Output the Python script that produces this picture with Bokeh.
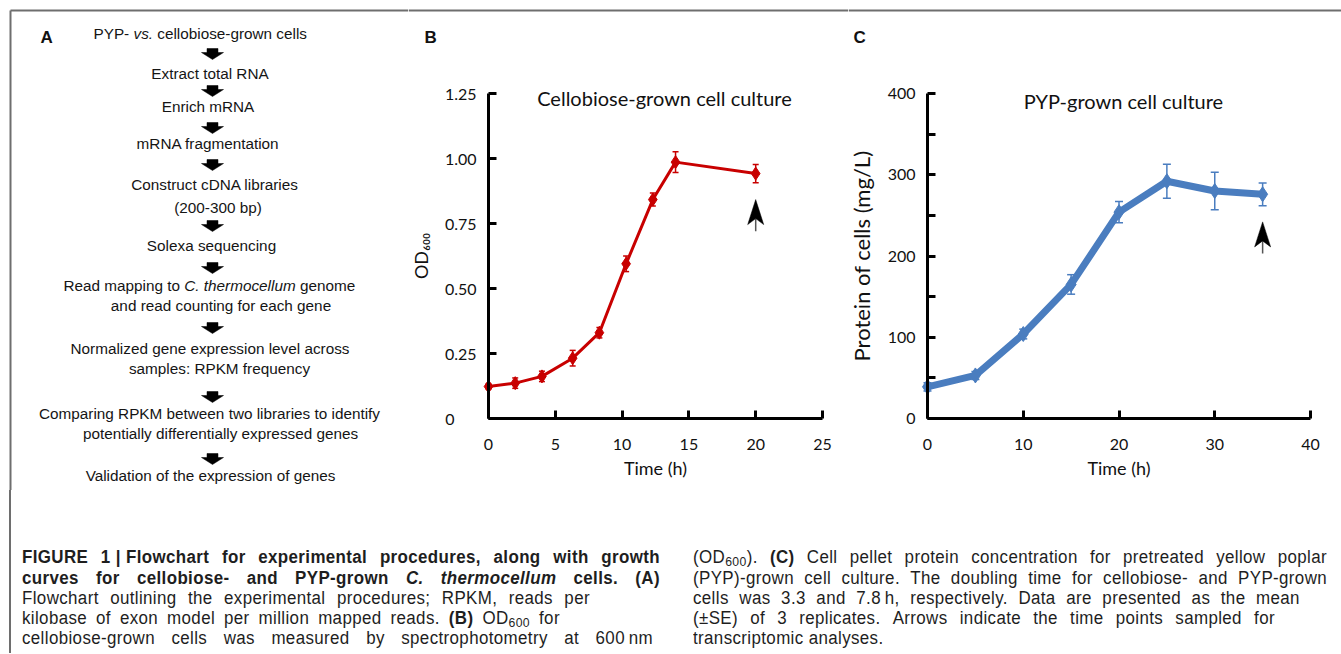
from bokeh.plotting import figure
from bokeh.models import (Range1d, LinearAxis, FixedTicker, CustomJSTickFormatter,
                          ColumnDataSource, Whisker, TeeHead, Label, Div)
from bokeh.layouts import row, column
from bokeh.embed import file_html
from bokeh.resources import INLINE
from bokeh.core.properties import value

# ---------------- data ----------------
# Panel B: cellobiose-grown culture, OD600
b_time = [0, 2, 4, 6.3, 8.3, 10.3, 12.3, 14, 20]
b_od = [0.123, 0.136, 0.162, 0.232, 0.330, 0.595, 0.842, 0.986, 0.942]
b_se = [0.010, 0.020, 0.020, 0.030, 0.020, 0.030, 0.025, 0.040, 0.035]
b_xticks = [0, 5, 10, 15, 20, 25]
b_yticks = [0, 0.25, 0.5, 0.75, 1.0, 1.25]
b_sample_time = 20
b_arrow_from, b_arrow_to = 0.72, 0.842

# Panel C: PYP-grown culture, protein of cells (mg/L)
c_time = [0, 5, 10, 15, 20, 25, 30, 35]
c_protein = [39, 53, 104, 165, 254, 292, 280, 276]
c_se = [5, 5, 6, 12, 13, 21, 23, 14]
c_xticks = [0, 10, 20, 30, 40]
c_yticks = [0, 100, 200, 300, 400]
c_yminor = [50, 150, 250, 350]
c_sample_time = 35
c_arrow_from, c_arrow_to = 203, 242

# Panel A: flowchart steps
flow_text = ["Extract total RNA", "Enrich mRNA", "mRNA fragmentation",
             "Construct cDNA libraries", "(200-300 bp)", "Solexa sequencing",
             "and read counting for each gene",
             "Normalized gene expression level across", "samples: RPKM frequency",
             "Comparing RPKM between two libraries to identify",
             "potentially differentially expressed genes",
             "Validation of the expression of genes"]
flow_cx = [209.5, 207.5, 207.5, 214.5, 217.5, 211, 220.5, 209.5, 219, 209, 220, 210]
flow_cy = [73, 106, 143, 184, 207, 245, 305, 348, 368, 413, 433, 475]
flow_seg_text = ["PYP-", "vs.", "cellobiose-grown cells", "Read mapping to", "C. thermocellum", "genome"]
flow_seg_x = [93, 133, 156.8, 63, 183.8, 299.4]
flow_seg_y = [33, 33, 33, 285, 285, 285]
flow_seg_style = ["normal", "italic", "normal", "normal", "italic", "normal"]
arrow_tops = [48, 85, 122, 159, 220, 262, 322, 391, 453]

FRAME = "#6e6e6e"
RED = "#c80000"
BLUE = "#4a7dbf"
TICKFONT = "Lato"
FLOWFONT = "Liberation Sans"

def base_fig(W, H, xr, yr):
    p = figure(width=W, height=H, x_range=Range1d(*xr), y_range=Range1d(*yr),
               x_axis_type=None, y_axis_type=None, toolbar_location=None,
               output_backend="svg", min_border=0, min_border_left=0, min_border_right=0,
               min_border_top=0, min_border_bottom=0)
    p.outline_line_color = None
    p.background_fill_color = "white"
    p.border_fill_color = "white"
    return p

def style_axis(ax, label, fsize="18px"):
    ax.axis_line_width = 3
    ax.axis_line_color = "black"
    ax.major_tick_in = 8
    ax.major_tick_out = 0
    ax.major_tick_line_width = 3
    ax.minor_tick_in = 0
    ax.minor_tick_out = 0
    ax.major_label_text_font = TICKFONT
    ax.major_label_text_font_size = "16px"
    ax.major_label_text_color = "#111"
    ax.axis_label = label
    ax.axis_label_text_font = TICKFONT
    ax.axis_label_text_font_size = fsize
    ax.axis_label_text_font_style = "normal"
    ax.axis_label_text_color = "#111"

def mapping(L, T, W, H, ox, oy, kx, ky):
    X = lambda rx: (rx - ox) / kx
    Y = lambda ry: (oy - ry) / ky
    return X, Y, (X(L), X(L + W)), (Y(T + H), Y(T))

def sample_arrow(p, xs, y_from, y_to, kx, ky):
    # filled notched head (tip at y_to) plus thin grey shaft
    hl, hw, notch = 25, 8, 19
    p.segment(x0=[xs], y0=[y_from], x1=[xs], y1=[y_to - notch / ky], line_color="#555", line_width=1.5)
    p.patch(x=[xs, xs + hw / kx, xs, xs - hw / kx],
            y=[y_to, y_to - hl / ky, y_to - notch / ky, y_to - hl / ky],
            fill_color="black", line_color="black", line_width=0.5)

TOP_H = 490

# ---------------- panel A ----------------
pa = base_fig(408, TOP_H, (0, 408), (TOP_H, 0))
pa.segment(x0=[10, 10], y0=[10, 10], x1=[408, 10], y1=[10, TOP_H], line_color=FRAME, line_width=2)
pa.text(x=[40], y=[37], text=["A"], text_font=value(FLOWFONT), text_font_style="bold",
        text_font_size=value("17px"), text_baseline="middle", text_align="left", text_color="#111")
pa.text(x=flow_cx, y=flow_cy, text=flow_text, text_font=value(FLOWFONT),
        text_font_size=value("15.3px"), text_align="center", text_baseline="middle", text_color="#151515")
segsrc = ColumnDataSource(dict(x=flow_seg_x, y=flow_seg_y, t=flow_seg_text, s=flow_seg_style))
pa.text(x="x", y="y", text="t", text_font_style="s", source=segsrc, text_font=value(FLOWFONT),
        text_font_size=value("15.3px"), text_align="left", text_baseline="middle", text_color="#151515")
axs, ays = [], []
cx = 212
for t in arrow_tops:
    axs.append([cx - 5.5, cx + 5.5, cx + 5.5, cx + 11, cx, cx - 11, cx - 5.5])
    ays.append([t, t, t + 4, t + 4, t + 11, t + 4, t + 4])
pa.patches(xs=axs, ys=ays, fill_color="black", line_color="black", line_width=0.5)

# ---------------- panel B ----------------
bkx, bky = (822 - 488) / 25, (418 - 93) / 1.25
BX, BY, bxr, byr = mapping(408, 0, 440, TOP_H, 488, 418, bkx, bky)
pb = base_fig(440, TOP_H, bxr, byr)
pb.segment(x0=[BX(408)], y0=[BY(10)], x1=[BX(848)], y1=[BY(10)], line_color=FRAME, line_width=2)

bx = LinearAxis(fixed_location=0, bounds=(0, 25), ticker=FixedTicker(ticks=b_xticks))
style_axis(bx, "Time (h)")
bx.major_label_standoff = 20
bx.axis_label_standoff = 4
pb.add_layout(bx, "below")
by = LinearAxis(fixed_location=0, bounds=(0, 1.25), ticker=FixedTicker(ticks=b_yticks),
                formatter=CustomJSTickFormatter(code="return tick == 0 ? '0\u2008\u2007\u2007' : tick.toFixed(2);"))
style_axis(by, "OD\u2086\u2080\u2080")
by.major_label_standoff = 12
by.axis_label_standoff = 10
pb.add_layout(by, "left")

bsrc = ColumnDataSource(dict(t=b_time, v=b_od,
                             up=[v + e for v, e in zip(b_od, b_se)],
                             lo=[v - e for v, e in zip(b_od, b_se)]))
pb.line("t", "v", source=bsrc, line_color=RED, line_width=3)
pb.add_layout(Whisker(source=bsrc, base="t", upper="up", lower="lo", dimension="height",
                      line_color=RED, line_width=1.5,
                      upper_head=TeeHead(size=6, line_color=RED, line_width=1.5),
                      lower_head=TeeHead(size=6, line_color=RED, line_width=1.5)))
pb.scatter("t", "v", source=bsrc, marker="diamond", size=13, fill_color=RED, line_color=RED)
sample_arrow(pb, b_sample_time, b_arrow_from, b_arrow_to, bkx, bky)
pb.add_layout(Label(x=BX(664), y=BY(97), text="Cellobiose-grown cell culture", text_align="center",
                    text_baseline="middle", text_font=TICKFONT, text_font_size="20px", text_color="#111"))
pb.add_layout(Label(x=BX(424), y=BY(37), text="B", text_align="left", text_baseline="middle",
                    text_font=FLOWFONT, text_font_style="bold", text_font_size="17px",
                    text_color="#111"))

# ---------------- panel C ----------------
ckx, cky = (1310 - 927) / 40, (418 - 93) / 400
CX, CY, cxr, cyr = mapping(848, 0, 493, TOP_H, 927, 418, ckx, cky)
pc = base_fig(493, TOP_H, cxr, cyr)
pc.segment(x0=[CX(848)], y0=[CY(10)], x1=[CX(1341)], y1=[CY(10)], line_color=FRAME, line_width=2)

cxa = LinearAxis(fixed_location=0, bounds=(0, 40), ticker=FixedTicker(ticks=c_xticks))
style_axis(cxa, "Time (h)")
cxa.major_label_standoff = 20
cxa.axis_label_standoff = 4
pc.add_layout(cxa, "below")
cya = LinearAxis(fixed_location=0, bounds=(0, 400),
                 ticker=FixedTicker(ticks=c_yticks, minor_ticks=c_yminor))
style_axis(cya, "Protein of cells (mg/L)", fsize="22px")
cya.minor_tick_in = 8
cya.minor_tick_line_width = 3
cya.minor_tick_line_color = "black"
cya.major_label_standoff = 12
cya.axis_label_standoff = 10
pc.add_layout(cya, "left")

csrc = ColumnDataSource(dict(t=c_time, v=c_protein,
                             up=[v + e for v, e in zip(c_protein, c_se)],
                             lo=[v - e for v, e in zip(c_protein, c_se)]))
pc.line("t", "v", source=csrc, line_color=BLUE, line_width=7)
pc.add_layout(Whisker(source=csrc, base="t", upper="up", lower="lo", dimension="height",
                      line_color=BLUE, line_width=1.5,
                      upper_head=TeeHead(size=8, line_color=BLUE, line_width=1.5),
                      lower_head=TeeHead(size=8, line_color=BLUE, line_width=1.5)))
pc.scatter("t", "v", source=csrc, marker="diamond", size=15, fill_color=BLUE, line_color=BLUE)
sample_arrow(pc, c_sample_time, c_arrow_from, c_arrow_to, ckx, cky)
pc.add_layout(Label(x=CX(1123), y=CY(100), text="PYP-grown cell culture", text_align="center",
                    text_baseline="middle", text_font=TICKFONT, text_font_size="20px", text_color="#111"))
pc.add_layout(Label(x=CX(853), y=CY(37), text="C", text_align="left", text_baseline="middle",
                    text_font=FLOWFONT, text_font_style="bold", text_font_size="17px",
                    text_color="#111"))

# ---------------- caption ----------------
CAP_H = 163
SX = 0.94  # slight horizontal condensing of the caption font
cap_lines = [
    # (left, right, center_y, bold_line, justified, text)
    (22, 660, 557, True, True, "FIGURE 1~|~Flowchart for experimental procedures, along with growth"),
    (22, 660, 578, True, True, "curves for cellobiose- and PYP-grown *C.* *thermocellum* cells. (A)"),
    (22, 590, 598, False, True, "Flowchart outlining the experimental procedures; RPKM, reads per"),
    (22, 560, 618, False, True, "kilobase of exon model per million mapped reads. **(B)** OD{600} for"),
    (22, 653, 638, False, True, "cellobiose-grown cells was measured by spectrophotometry at 600^nm"),
    (693, 1327, 557, False, True, "(OD{600}). **(C)** Cell pellet protein concentration for pretreated yellow poplar"),
    (693, 1327, 578, False, True, "(PYP)-grown cell culture. The doubling time for cellobiose- and PYP-grown"),
    (693, 1300, 598, False, True, "cells was 3.3 and 7.8^h, respectively. Data are presented as the mean"),
    (693, 1275, 618, False, True, "(\u00b1SE) of 3 replicates. Arrows indicate the time points sampled for"),
    (693, 900, 638, False, False, "transcriptomic analyses."),
]

def word_html(w):
    style = ""
    if w.startswith("**") and w.endswith("**"):
        w = w[2:-2]; style = "font-weight:bold;"
    elif w.startswith("*") and w.endswith("*"):
        w = w[1:-1]; style = "font-style:italic;"
    w = w.replace("~", " ").replace("^", "&thinsp;")
    w = w.replace("{", '<span style="font-size:13px;position:relative;top:3px;">').replace("}", "</span>")
    return f'<span style="{style}">{w}</span>'

parts = ['<div style="position:relative;width:1341px;height:%dpx;margin:0;padding:0;'
         "font-family:'Liberation Sans',Arial,sans-serif;letter-spacing:0.4px;"
         'font-size:18px;color:#1e1e1e;">' % CAP_H,
         f'<div style="position:absolute;left:9px;top:0px;width:2px;height:{CAP_H}px;background:{FRAME};"></div>']
for (l, r, cy, bold, just, txt) in cap_lines:
    words = [word_html(w) for w in txt.split(" ")]
    fw = "font-weight:bold;" if bold else ""
    base = (f"position:absolute;left:{l}px;top:{cy - 490 - 10}px;height:20px;line-height:20px;"
            f"white-space:nowrap;transform:scaleX({SX});transform-origin:0 0;{fw}")
    if just:
        parts.append(f'<div style="{base}width:{(r - l) / SX:.1f}px;display:flex;justify-content:space-between;">'
                     + "".join(words) + "</div>")
    else:
        parts.append(f'<div style="{base}">' + " ".join(words) + "</div>")
parts.append("</div>")
cap = Div(text="".join(parts), width=1341, height=CAP_H, margin=(0, 0, 0, 0))

layout = column(row(pa, pb, pc), cap)
open("out.html", "w").write(file_html(layout, INLINE))
